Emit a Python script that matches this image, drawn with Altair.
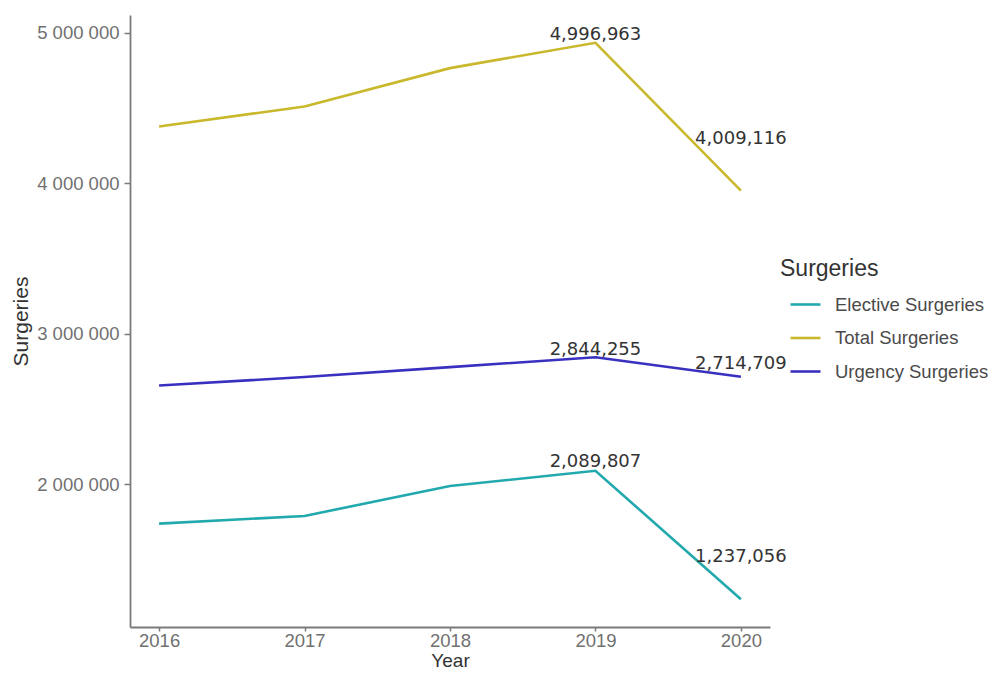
import altair as alt
import pandas as pd

years = [2016, 2017, 2018, 2019, 2020]
series_names = ["Elective Surgeries", "Total Surgeries", "Urgency Surgeries"]
elective = [1739000, 1790000, 1989000, 2089807, 1237056]
urgency = [2657000, 2713000, 2779000, 2844255, 2714709]
total = [4378000, 4511000, 4766000, 4934062, 3951765]
colors = ["#22a9ae", "#c9b82c", "#3a30c0"]

label_series = ["Total Surgeries", "Total Surgeries", "Urgency Surgeries",
                "Urgency Surgeries", "Elective Surgeries", "Elective Surgeries"]
label_years = [2019, 2020, 2019, 2020, 2019, 2020]
label_text = ["4,996,963", "4,009,116", "2,844,255", "2,714,709", "2,089,807", "1,237,056"]
label_dy = [-8, -52, -7, -13, -9, -42]

rows = []
for name, vals in zip(series_names, [elective, total, urgency]):
    for yr, v in zip(years, vals):
        rows.append({"Year": yr, "Surgeries": v, "Series": name})
df = pd.DataFrame(rows)

lookup = {(r["Series"], r["Year"]): r["Surgeries"] for r in rows}

x_enc = alt.X("Year:Q",
              scale=alt.Scale(domain=[2015.8, 2020.2], nice=False, zero=False),
              axis=alt.Axis(values=years, format="d", title="Year", grid=False,
                            tickSize=4, labelPadding=0, titlePadding=1.5,
                            titleFontSize=19))
y_enc = alt.Y("Surgeries:Q",
              scale=alt.Scale(domain=[1052000, 5119000], nice=False, zero=False),
              axis=alt.Axis(values=[2000000, 3000000, 4000000, 5000000],
                            labelExpr="replace(format(datum.value, ','), /,/g, ' ')",
                            title="Surgeries", grid=False, tickSize=6, labelPadding=5,
                            titleX=-99, titleY=306))

lines = alt.Chart(df).mark_line(strokeWidth=2.6).encode(
    x=x_enc,
    y=y_enc,
    color=alt.Color("Series:N",
                    scale=alt.Scale(domain=series_names, range=colors),
                    legend=alt.Legend(title="Surgeries", orient="none",
                                      legendX=650, legendY=243,
                                      symbolType="stroke", symbolSize=900,
                                      symbolStrokeWidth=2.6, rowPadding=7.5,
                                      titlePadding=7, labelOffset=13,
                                      symbolOffset=9, labelLimit=300)),
)

layers = [lines]
for s, yr, t, dy in zip(label_series, label_years, label_text, label_dy):
    ldf = pd.DataFrame([{"Year": yr, "Surgeries": lookup[(s, yr)], "label": t}])
    layers.append(
        alt.Chart(ldf).mark_text(font="DejaVu Sans", fontSize=18, color="#333333",
                                 dy=dy, baseline="middle", align="center").encode(
            x="Year:Q", y="Surgeries:Q", text="label:N")
    )

chart = alt.layer(*layers).properties(
    width=640, height=612,
    autosize=alt.AutoSizeParams(type="none"),
    padding={"left": 122, "top": 7, "right": 225, "bottom": 43},
).configure_view(stroke=None).configure_axis(
    domainColor="#7a7a7a", domainWidth=1.8, tickColor="#7a7a7a", tickWidth=1.5,
    labelFont="Liberation Sans", labelFontSize=18.5, labelColor="#707070",
    titleFont="Liberation Sans", titleFontSize=21, titleColor="#333333",
    titleFontWeight="normal",
).configure_legend(
    titleFont="Liberation Sans", titleFontSize=23, titleFontWeight="normal",
    titleColor="#333333", labelFont="Liberation Sans", labelFontSize=18.5,
    labelColor="#4a4a4a",
)

chart.save("out.html", embed_options={"renderer": "svg", "actions": False})
